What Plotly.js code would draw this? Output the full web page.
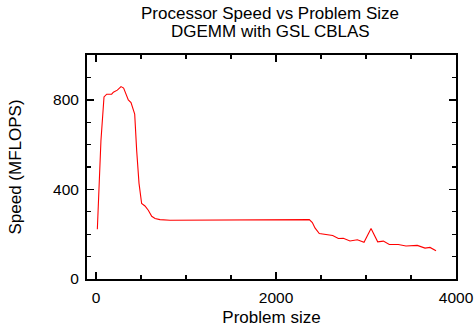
<!DOCTYPE html>
<html>
<head>
<meta charset="utf-8">
<script src="https://cdn.plot.ly/plotly-3.0.1.min.js"></script>
<style>html,body{margin:0;padding:0;background:#fff;}#chart{width:476px;height:333px;}</style>
</head>
<body>
<div id="chart"></div>
<script>
const problemSize = [15, 55, 89, 119, 174, 193, 237, 278, 307, 330, 359, 389, 430, 452, 478, 507, 544, 581, 619, 656, 711, 822, 933, 1200, 1500, 1800, 2100, 2370, 2404, 2433, 2481, 2544, 2630, 2693, 2748, 2822, 2904, 2978, 3056, 3130, 3193, 3259, 3359, 3444, 3570, 3656, 3711, 3778];
const speedMflops = [222, 618, 813, 825, 825, 834, 843, 859, 852, 825, 799, 788, 736, 573, 427, 337, 326, 307, 280, 270, 265, 262, 262, 263, 264, 264, 265, 265, 252, 228, 203, 200, 194, 181, 182, 170, 175, 164, 225, 166, 169, 154, 154, 147, 150, 138, 141, 126];
const titleLines = ['Processor Speed vs Problem Size', 'DGEMM with GSL CBLAS'];

const font = {family: 'Liberation Sans, Arial, sans-serif', color: '#000'};
const axisCommon = {
  showgrid: false, zeroline: false, showline: true, linecolor: '#000', linewidth: 2,
  mirror: 'ticks', ticks: 'inside', ticklen: 7, tickwidth: 1.5, tickcolor: '#000',
  tickfont: Object.assign({size: 15.5}, font)
};
const layout = {
  width: 476, height: 333,
  margin: {l: 87, r: 20, t: 55, b: 54},
  paper_bgcolor: '#fff', plot_bgcolor: '#fff',
  showlegend: false,
  annotations: [
    {text: titleLines[0], xref: 'paper', yref: 'paper', x: 0.497, y: 1.1875, xanchor: 'center', yanchor: 'middle', showarrow: false, font: Object.assign({size: 17}, font)},
    {text: titleLines[1], xref: 'paper', yref: 'paper', x: 0.497, y: 1.105, xanchor: 'center', yanchor: 'middle', showarrow: false, font: Object.assign({size: 17}, font)}
  ],
  xaxis: Object.assign({}, axisCommon, {
    range: [-100, 4000], tickvals: [0, 2000, 4000], ticktext: ['0', '2000', '4000'],
    ticklabelstandoff: 3,
    minor: {dtick: 500, tick0: 0, ticks: 'inside', ticklen: 4, tickwidth: 1.2, tickcolor: '#000'},
    title: {text: 'Problem size', font: Object.assign({size: 17}, font), standoff: 7}
  }),
  yaxis: Object.assign({}, axisCommon, {
    range: [0, 1000], tickvals: [0, 400, 800], ticktext: ['0', '400', '800'],
    ticklabelstandoff: 3,
    minor: {dtick: 100, tick0: 0, ticks: 'inside', ticklen: 4, tickwidth: 1.2, tickcolor: '#000'},
    title: {text: 'Speed (MFLOPS)', font: Object.assign({size: 17}, font), standoff: 27}
  })
};
Plotly.newPlot('chart', [{
  x: problemSize, y: speedMflops, type: 'scatter', mode: 'lines',
  line: {color: '#ff0000', width: 1.1}
}], layout, {staticPlot: true, displayModeBar: false});
</script>
</body>
</html>
